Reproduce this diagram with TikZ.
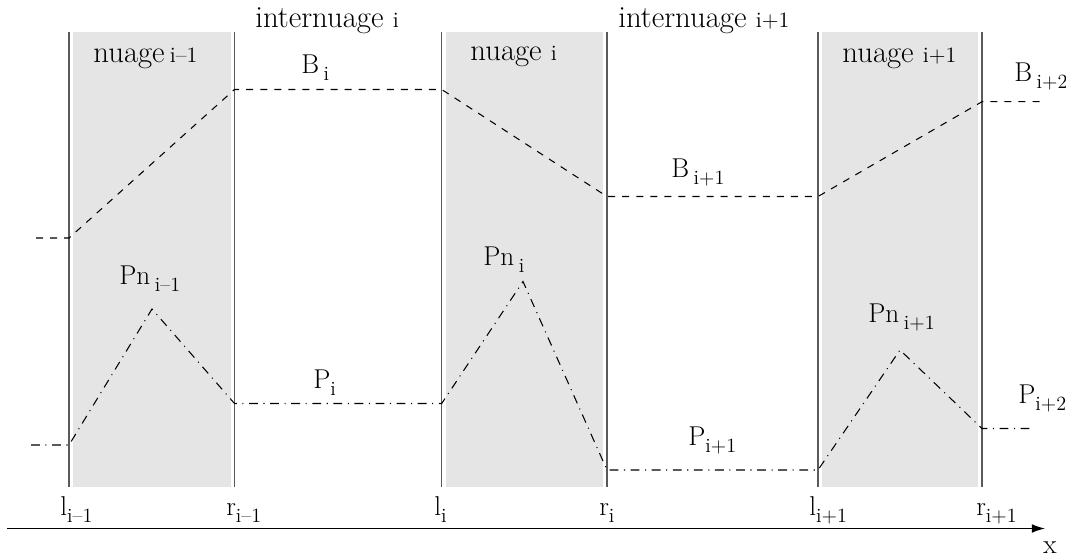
\documentclass[tikz,border=0pt]{standalone}
\definecolor{cloudgray}{RGB}{229,229,229}
\definecolor{wallgray}{RGB}{90,90,90}
\usetikzlibrary{arrows.meta}
\newcommand{\nidx}[1]{{\fontsize{12.5}{14}\selectfont #1}}
\newcommand{\sbs}[1]{\raisebox{-4.3pt}{\fontsize{11.5}{13}\selectfont #1}}

\begin{document}
\begin{tikzpicture}[x=0.02cm,y=-0.02cm,
  cloud/.style={fill=cloudgray,draw=none},
  wall/.style={draw=wallgray,line width=0.8pt},
  bline/.style={line width=0.6pt,dash pattern=on 4pt off 4pt},
  pline/.style={line width=0.6pt,dash pattern=on 5pt off 3.2pt on 0.6pt off 3.2pt},
  lbl/.style={font=\fontsize{15.5}{18}\selectfont,inner sep=0pt,anchor=base west},
  head/.style={font=\fontsize{17.5}{21}\selectfont,inner sep=0pt,anchor=base west}]
  \useasboundingbox (0,0) rectangle (1066,558);
  % nuages
  \fill[cloud] (73,32) rectangle (230.5,487);
  \fill[cloud] (446,32) rectangle (603,487);
  \fill[cloud] (822,32) rectangle (978,487);
  \foreach \xw in {69,234.5,441.7,607,818,982}
    \draw[wall] (\xw,32) -- (\xw,487);
  % B
  \coordinate (b0) at (36,238);   \coordinate (b1) at (69,238);
  \coordinate (b2) at (234.5,89.5); \coordinate (b3) at (441.7,89.5);
  \coordinate (b4) at (607,196.5); \coordinate (b5) at (818,196.5);
  \coordinate (b6) at (982,101.7); \coordinate (b7) at (1045,101.7);
  \draw[bline] (b0) -- (b1) -- (b2) -- (b3) -- (b4) -- (b5) -- (b6) -- (b7);
  % P
  \coordinate (p0) at (31,445);   \coordinate (p1) at (69,445);
  \coordinate (pk1) at (152,309);
  \coordinate (p2) at (234.5,403.5); \coordinate (p3) at (441.7,403.5);
  \coordinate (pk2) at (523,281.5);
  \coordinate (p4) at (607,470);  \coordinate (p5) at (818,470);
  \coordinate (pk3) at (900,350);
  \coordinate (p6) at (982,428.5); \coordinate (p7) at (1035,428.5);
  \draw[pline] (p0) -- (p1) -- (pk1) -- (p2) -- (p3) -- (pk2) -- (p4) -- (p5) -- (pk3) -- (p6) -- (p7);
  % axe
  \coordinate (ax0) at (7,528.5);
  \coordinate (ax1) at (1045,528.5);
  \draw[line width=0.7pt,-{Latex[length=7.5pt,width=5pt]}] (ax0) -- (ax1);
  \node[lbl] (xlab) at (1043,553) {x};
  % titres
  \node[head] (inter1) at (255,27) {internuage \nidx{i}};
  \node[head] (inter2) at (618,27) {internuage \nidx{i+1}};
  \node[head] (nuage0) at (93,62) {nuage\,\nidx{i--1}};
  \node[head] (nuage1) at (470,60) {nuage \nidx{i}};
  \node[head] (nuage2) at (842,62) {nuage \nidx{i+1}};
  % bornes
  \node[lbl] (bi) at (301,73) {B\,\sbs{i}};
  \node[lbl] (bi1) at (671,177) {B\,\sbs{i+1}};
  \node[lbl] (bi2) at (1014,81) {B\,\sbs{i+2}};
  \node[lbl] (pn0) at (119,284) {Pn\,\sbs{i--1}};
  \node[lbl] (pn1) at (483,265) {Pn\,\sbs{i}};
  \node[lbl] (pn2) at (868,322) {Pn\,\sbs{i+1}};
  \node[lbl] (pi) at (313,388) {P\sbs{i}};
  \node[lbl] (pi1) at (688,445) {P\sbs{i+1}};
  \node[lbl] (pi2) at (1018,403) {P\sbs{i+2}};
  \node[lbl] (l0) at (60,515) {l\sbs{i--1}};
  \node[lbl] (r0) at (226,515) {r\sbs{i--1}};
  \node[lbl] (l1) at (434,515) {l\sbs{i}};
  \node[lbl] (r1) at (599,515) {r\sbs{i}};
  \node[lbl] (l2) at (809,515) {l\sbs{i+1}};
  \node[lbl] (r2) at (976,515) {r\sbs{i+1}};
\end{tikzpicture}
\end{document}
